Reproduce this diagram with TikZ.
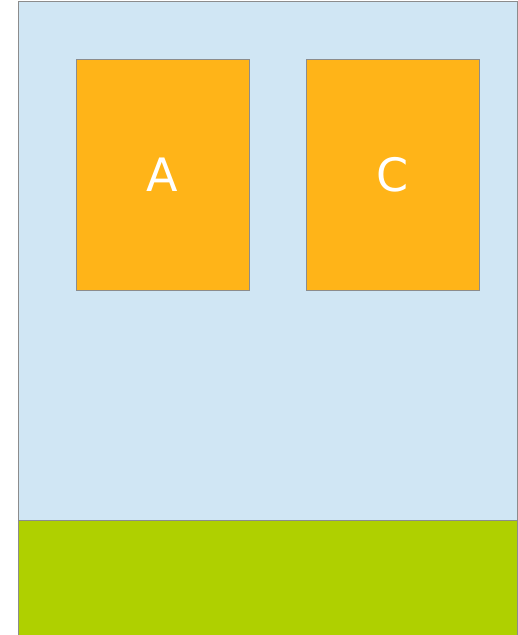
\documentclass[tikz,border=0pt]{standalone}
\usepackage{fontspec}
\setsansfont{DejaVu Sans}
\definecolor{paleblue}{HTML}{D0E6F4}
\definecolor{boxorange}{HTML}{FFB418}
\definecolor{limegreen}{HTML}{AFD000}
\definecolor{edgegray}{HTML}{8C8C8C}

\begin{document}
\begin{tikzpicture}[x=1pt,y=-1pt,font=\sffamily,
  panel/.style={draw=edgegray,fill=boxorange,text=white,line width=0.8pt,
    minimum width=173pt,minimum height=231pt,inner sep=0pt,
    font=\sffamily\fontsize{46}{50}\selectfont}]
\useasboundingbox (0,0) rectangle (518,635);
\filldraw[fill=paleblue,draw=edgegray,line width=1pt] (18.5,1.5) rectangle (517,645);
\filldraw[fill=limegreen,draw=edgegray,line width=1pt] (18.5,520.5) rectangle (517,645);
\node[panel] (a) at (162.5,174.5) {A};
\node[panel] (c) at (392.5,174.5) {C};
\end{tikzpicture}
\end{document}
